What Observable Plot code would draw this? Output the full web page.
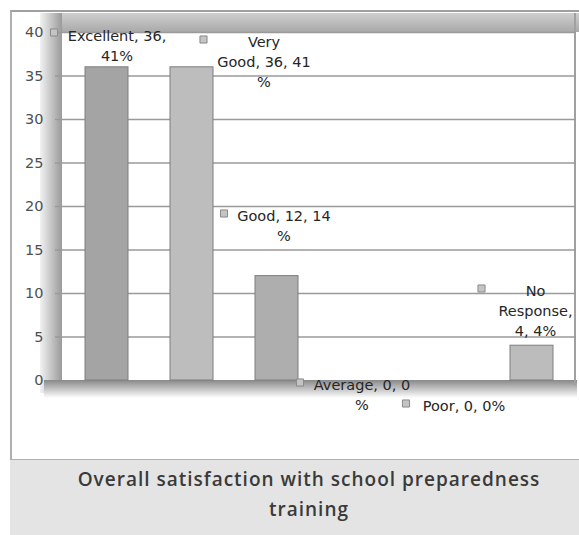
<!DOCTYPE html>
<html>
<head>
<meta charset="utf-8">
<script src="https://cdn.jsdelivr.net/npm/d3@7"></script>
<script src="https://cdn.jsdelivr.net/npm/@observablehq/plot@0.6"></script>
<style>
  body { margin: 0; background: #fff; }
  #wrap { position: relative; width: 579px; height: 535px; overflow: hidden; font-family: "Open Sans", sans-serif; }
  .deco { position: absolute; }
  #frame { left: 10px; top: 10px; width: 575px; height: 447px; border-left: 2px solid #b0b0b0; border-top: 2px solid #a0a0a0; border-bottom: 2px solid #b0b0b0; background: #fff; }
  #topband { left: 40px; top: 13px; width: 540px; height: 19px; background: linear-gradient(to bottom, #cfcfcf, #a9a9a9); }
  #wall { left: 40px; top: 13px; width: 22px; height: 380px; background: linear-gradient(to right, #f2f2f2, #9a9a9a); }
  #floor { left: 44px; top: 380px; width: 533px; height: 18px; background: linear-gradient(to bottom, #888888, #c4c4c4 50%, #ffffff); }
  #rborder { left: 574px; top: 13px; width: 2px; height: 372px; background: #a0a0a0; }
  #chart { position: absolute; left: 0; top: 0; }
  #caption { position: absolute; left: 10px; top: 460px; width: 540px; height: 71px; padding-left: 29px; background: #e4e4e4;
             text-align: center; font-family: "Open Sans", sans-serif; font-weight: 600; font-size: 19px; letter-spacing: 1px; line-height: 30px; color: #3a3a3a; padding-top: 4px; box-sizing: content-box; }
</style>
</head>
<body>
<div id="wrap">
  <div class="deco" id="frame"></div>
  <div class="deco" id="topband"></div>
  <div class="deco" id="wall"></div>
  <div class="deco" id="floor"></div>
  <div class="deco" id="rborder"></div>
  <div id="chart"></div>
  <div id="caption">Overall satisfaction with school preparedness<br>training</div>
</div>
<script>
// ---- data ----
const categories = ["Excellent", "Very Good", "Good", "Average", "Poor", "No Response"];
const counts = [36, 36, 12, 0, 0, 4];
const percents = [41, 41, 14, 0, 0, 4];
const labelTexts = [
  "Excellent, 36,\n41%",
  "Very\nGood, 36, 41\n%",
  "Good, 12, 14\n%",
  "Average, 0, 0\n%",
  "Poor, 0, 0%",
  "No\nResponse,\n4, 4%"
];
const yTicks = [0, 5, 10, 15, 20, 25, 30, 35, 40];

// ---- styling / layout (not data) ----
const barFills = ["#a4a4a4", "#bdbdbd", "#aeaeae", "#b0b0b0", "#b0b0b0", "#bcbcbc"];
// label offsets in px relative to (bar centre, baseline)
const labelLayout = [
  {dx: 10,  dy: -354, sqDx: -53,  sqDy: -348},
  {dx: 72,  dy: -348, sqDx: 11.5, sqDy: -341},
  {dx: 7,   dy: -174, sqDx: -53,  sqDy: -167},
  {dx: 0,   dy: -5,   sqDx: -62,  sqDy: 2},
  {dx: 17,  dy: 16,   sqDx: -41,  sqDy: 23},
  {dx: 3.5, dy: -99,  sqDx: -50.5, sqDy: -92}
];

const data = categories.map((c, i) => ({cat: c, value: counts[i], pct: percents[i], label: labelTexts[i]}));

const labelMarks = data.flatMap((d, i) => {
  const L = labelLayout[i];
  return [
    Plot.dot([d], {x: "cat", y: () => 0, symbol: "square", r: 4, fill: "#c4c4c4", stroke: "#8a8a8a", strokeWidth: 1, dx: L.sqDx, dy: L.sqDy}),
    Plot.text([d], {x: "cat", y: () => 0, text: "label", dx: L.dx, dy: L.dy, lineAnchor: "top", lineHeight: 1.38,
                    fontSize: 14.5, fontFamily: "DejaVu Sans, sans-serif", fill: "#262626", textAnchor: "middle"})
  ];
});

const chart = Plot.plot({
  width: 579,
  height: 460,
  marginLeft: 62,
  marginRight: 3,
  marginTop: 32,
  marginBottom: 80,
  style: {background: "transparent", fontFamily: "DejaVu Sans, sans-serif", fontSize: "14.5px", color: "#505050", overflow: "visible"},
  x: {domain: categories, paddingInner: 0.5, paddingOuter: 0.25, align: 0.5, axis: null},
  y: {domain: [0, 40], ticks: yTicks, tickSize: 0, tickPadding: 19, label: null},
  color: {domain: categories, range: barFills},
  marks: [
    Plot.ruleY(yTicks.filter(t => t > 0), {stroke: "#9a9a9a", strokeWidth: 1.5, insetLeft: -7}),
    Plot.barY(data, {x: "cat", y: "value", fill: "cat", stroke: "#7e7e7e", strokeWidth: 1}),
    ...labelMarks
  ]
});
document.getElementById("chart").appendChild(chart);
</script>
</body>
</html>
